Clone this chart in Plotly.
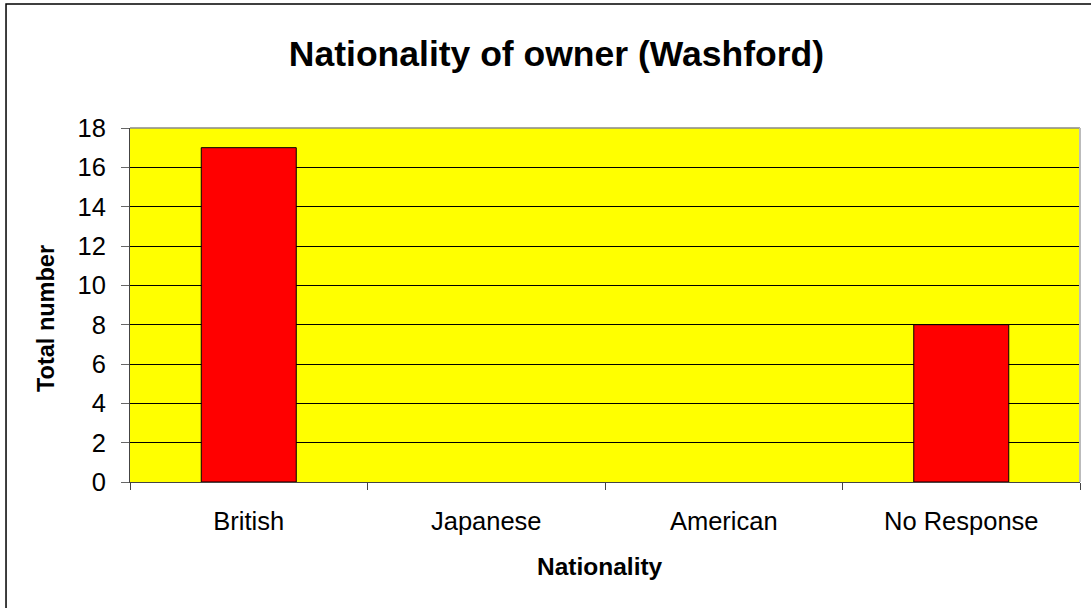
import plotly.graph_objs as go

nationalities = ['British', 'Japanese', 'American', 'No Response']
totals = [17, 0, 0, 8]
y_ticks = [0, 2, 4, 6, 8, 10, 12, 14, 16, 18]

# zero-height bars get no outline, as in the original
outline = [1 if v > 0 else 0 for v in totals]

data = [go.Bar(x=nationalities,
               y=totals,
               width=0.4,
               marker=dict(color='#ff0000',
                           line=dict(color='black', width=outline)))]

layout = go.Layout(
    width=1091, height=608,
    margin=dict(l=130, r=11, t=128, b=126),
    paper_bgcolor='white',
    plot_bgcolor='#ffff00',
    font=dict(family='Arial, Liberation Sans, sans-serif', color='black', size=25),
    title=dict(text='<b>Nationality of owner (Washford)</b>',
               x=0.51, xanchor='center', xref='container',
               y=0.912, yanchor='middle', yref='container',
               font=dict(size=35.5)),
    xaxis=dict(tickson='boundaries', ticks='outside', ticklen=7, tickcolor='#444',
               showline=True, linecolor='#444', linewidth=1,
               showgrid=False, tickfont=dict(size=25.5),
               ticklabelstandoff=16),
    yaxis=dict(range=[0, 18], tickvals=y_ticks, ticks='outside', ticklen=8,
               tickcolor='#666', showline=True, linecolor='#444', linewidth=1,
               showgrid=True, gridcolor='black', gridwidth=1,
               zeroline=False, tickfont=dict(size=25.5),
               ticklabelstandoff=10),
    showlegend=False,
    annotations=[
        dict(text='<b>Total number</b>', textangle=-90, showarrow=False,
             xref='paper', yref='paper', x=-0.0885, y=0.463,
             xanchor='center', yanchor='middle', font=dict(size=23.5)),
        dict(text='<b>Nationality</b>', showarrow=False,
             xref='paper', yref='paper', x=0.495, y=-0.24,
             xanchor='center', yanchor='middle', font=dict(size=24.5)),
    ],
    shapes=[
        # gray top and right edges of the plot area
        dict(type='line', xref='paper', yref='paper', x0=0, x1=1, y0=1, y1=1,
             line=dict(color='#888', width=1.5)),
        dict(type='line', xref='paper', yref='paper', x0=1, x1=1, y0=0, y1=1,
             line=dict(color='#bbb', width=2)),
        # outer chart border (right and bottom edges fall outside the page)
        dict(type='rect', xref='paper', yref='paper',
             x0=-0.1305, x1=1.05, y0=-0.40, y1=1.350,
             line=dict(color='black', width=1.5), layer='below'),
    ],
)

fig = go.Figure(data=data, layout=layout)
fig.write_html('out.html', config={'displayModeBar': False},
               post_script="document.body.style.margin='0';")
